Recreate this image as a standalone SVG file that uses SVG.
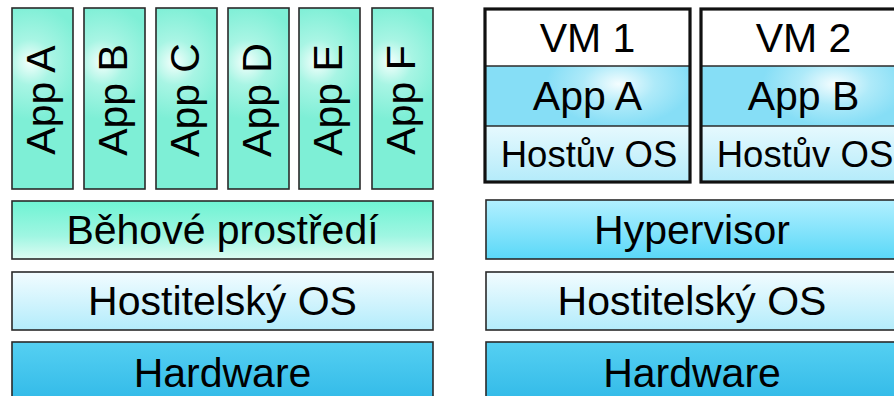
<svg xmlns="http://www.w3.org/2000/svg" width="894" height="396" viewBox="0 0 894 396">
<defs>
<radialGradient id="gApp" cx="0.3" cy="0.3" r="0.9" gradientTransform="translate(0.3,0.3) scale(1,0.35) translate(-0.3,-0.3)">
<stop offset="0" stop-color="#f4fffc"/>
<stop offset="0.4" stop-color="#a8f5e4"/>
<stop offset="1" stop-color="#7eefd6"/>
</radialGradient>
<radialGradient id="gVmApp" cx="0.65" cy="0.3" r="0.7" gradientTransform="translate(0.65,0.3) scale(0.5,1) translate(-0.65,-0.3)">
<stop offset="0" stop-color="#f4fdff"/>
<stop offset="0.5" stop-color="#aeeaf9"/>
<stop offset="1" stop-color="#86def6"/>
</radialGradient>
<linearGradient id="gRun" x1="0" y1="0" x2="0" y2="1">
<stop offset="0" stop-color="#6ff3d3"/>
<stop offset="0.6" stop-color="#9ff6e2"/>
<stop offset="1" stop-color="#defcf3"/>
</linearGradient>
<linearGradient id="gHost" x1="0" y1="0" x2="0" y2="1">
<stop offset="0" stop-color="#f2fcff"/>
<stop offset="1" stop-color="#b3ecfb"/>
</linearGradient>
<linearGradient id="gHw" x1="0" y1="0" x2="0" y2="1">
<stop offset="0" stop-color="#55d0f2"/>
<stop offset="1" stop-color="#2cb6e6"/>
</linearGradient>
<linearGradient id="gHyp" x1="0" y1="0" x2="0" y2="1">
<stop offset="0" stop-color="#b2f0ff"/>
<stop offset="1" stop-color="#5ad8f8"/>
</linearGradient>
<linearGradient id="gGuest" x1="0" y1="0" x2="0" y2="1">
<stop offset="0" stop-color="#e6f9fe"/>
<stop offset="1" stop-color="#b3ebfa"/>
</linearGradient>
</defs>
<style>
.b{stroke:#2a2a2a;stroke-width:1.6}
.t{font-family:"Liberation Sans",Arial,sans-serif;font-size:41px;fill:#000;text-anchor:middle}
.ts{font-family:"Liberation Sans",Arial,sans-serif;font-size:36.5px;fill:#000;text-anchor:middle}
.vm{fill:none;stroke:#111;stroke-width:3.2}
</style>
<rect width="894" height="396" fill="#fff"/>

<g id="appA"><rect class="b" x="12" y="8" width="61" height="181" fill="url(#gApp)"/><text class="t" transform="translate(54.5,100) rotate(-90)">App A</text></g>
<g id="appB"><rect class="b" x="84" y="8" width="61" height="181" fill="url(#gApp)"/><text class="t" transform="translate(126.5,100) rotate(-90)">App B</text></g>
<g id="appC"><rect class="b" x="156" y="8" width="61" height="181" fill="url(#gApp)"/><text class="t" transform="translate(198.5,100) rotate(-90)">App C</text></g>
<g id="appD"><rect class="b" x="228" y="8" width="61" height="181" fill="url(#gApp)"/><text class="t" transform="translate(270.5,100) rotate(-90)">App D</text></g>
<g id="appE"><rect class="b" x="299" y="8" width="61" height="181" fill="url(#gApp)"/><text class="t" transform="translate(341.5,100) rotate(-90)">App E</text></g>
<g id="appF"><rect class="b" x="372" y="8" width="61" height="181" fill="url(#gApp)"/><text class="t" transform="translate(414.5,100) rotate(-90)">App F</text></g>

<g id="runtime"><rect class="b" x="12" y="201" width="421" height="58" fill="url(#gRun)"/><text class="t" x="222.5" y="244">Běhové prostředí</text></g>
<g id="hostOS1"><rect class="b" x="12" y="272" width="421" height="58" fill="url(#gHost)"/><text class="t" x="222.5" y="315">Hostitelský OS</text></g>
<g id="hw1"><rect class="b" x="12" y="342" width="421" height="70" fill="url(#gHw)"/><text class="t" x="222.5" y="387">Hardware</text></g>

<g id="vm1">
<rect x="484" y="8" width="207" height="58" fill="#fff"/>
<rect x="484" y="66" width="207" height="60" fill="url(#gVmApp)"/>
<rect x="484" y="126" width="207" height="57" fill="url(#gGuest)"/>
<line x1="484" y1="66" x2="691" y2="66" stroke="#2a2a2a" stroke-width="1.4"/>
<line x1="484" y1="126" x2="691" y2="126" stroke="#2a2a2a" stroke-width="1.4"/>
<rect class="vm" x="485" y="9" width="205" height="173"/>
<text class="t" x="587.5" y="52">VM 1</text>
<text class="t" x="587.5" y="110">App A</text>
<text class="ts" x="589" y="167">Hostův OS</text>
</g>
<g id="vm2">
<rect x="700" y="8" width="207" height="58" fill="#fff"/>
<rect x="700" y="66" width="207" height="60" fill="url(#gVmApp)"/>
<rect x="700" y="126" width="207" height="57" fill="url(#gGuest)"/>
<line x1="700" y1="66" x2="907" y2="66" stroke="#2a2a2a" stroke-width="1.4"/>
<line x1="700" y1="126" x2="907" y2="126" stroke="#2a2a2a" stroke-width="1.4"/>
<rect class="vm" x="701" y="9" width="205" height="173"/>
<text class="t" x="803.5" y="52">VM 2</text>
<text class="t" x="803.5" y="110">App B</text>
<text class="ts" x="805" y="167">Hostův OS</text>
</g>

<g id="hypervisor"><rect class="b" x="486" y="200" width="412" height="59" fill="url(#gHyp)"/><text class="t" x="692" y="244">Hypervisor</text></g>
<g id="hostOS2"><rect class="b" x="486" y="272" width="412" height="58" fill="url(#gHost)"/><text class="t" x="692" y="315">Hostitelský OS</text></g>
<g id="hw2"><rect class="b" x="486" y="342" width="412" height="70" fill="url(#gHw)"/><text class="t" x="692" y="387">Hardware</text></g>
<g id="connectors"/>
</svg>
